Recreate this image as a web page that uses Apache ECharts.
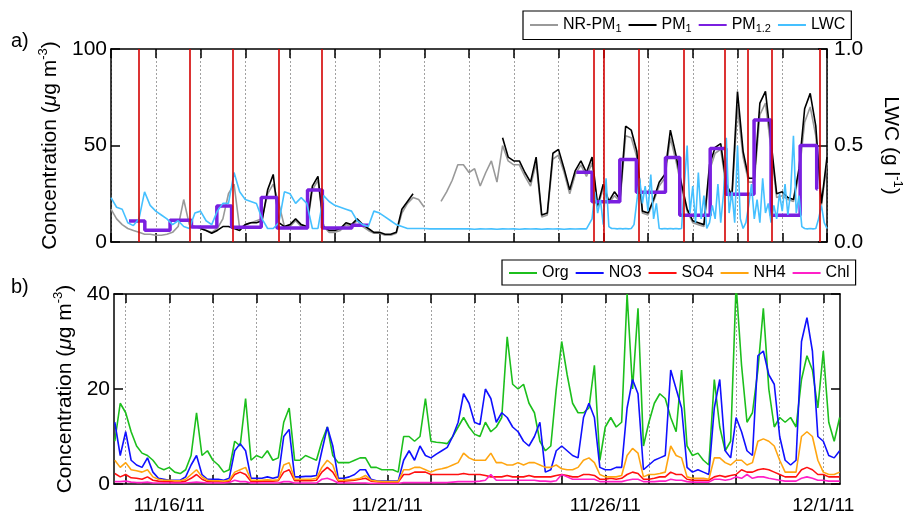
<!DOCTYPE html>
<html><head><meta charset="utf-8">
<script src="https://cdn.jsdelivr.net/npm/echarts@6/dist/echarts.min.js"></script>
<style>html,body{margin:0;padding:0;background:#fff}#c{width:912px;height:515px}</style>
</head><body><div id="c"></div>
<script>
// time unit: days relative to 11/16/11 00:00
// ---- panel a) : 3-hourly samples starting 11/15/11 00:00 ----
const topStart = -1, topStep = 0.125;
const nrpm1 = [17,12,9,7,6,5,4,4,3.5,3.5,4,5,8,22,9,8,
  7,6,5,7,12,25,30,7,9,10,11,12,25,30,20,8,
  8,11,8,7,27,32,8,5,5,6,9,8,11,8,6,4.5,
  4.5,3.5,3.5,4.5,15,20,23,22,18,null,null,21,26,32,40,40,
  36,38,29,36,42,31,50,42,40,40,34,29,41,13,14,43,
  45,36,25,35,40,34,41,18,28,20,24,21,55,54,44,15,
  14,21,29,33,54,42,28,16,10,9,8,37,46,48,28,22,
  70,44,31,31,66,72,48,23,24,22,21,35,62,70,55,19,
  41];
const pm1 = [null,null,null,null,null,null,null,null,null,null,null,null,null,null,null,null,
  7,6,4.5,6,8,8,7,6,9,10,10,11,27,35,10,8,
  9,12,9,8,29,34,8,6,6,7,10,9,12,9,7,5,
  5,4,4,5,17,21,25,null,null,null,null,null,null,null,null,
  null,null,null,null,null,null,null,
  54,44,42,42,36,31,44,14,15,46,
  48,38,27,37,42,36,44,19,30,21,26,22,60,58,47,16,
  15,22,31,35,58,45,30,17,11,10,9,40,49,51,30,24,
  78,47,33,33,72,78,52,25,26,23,22,38,69,77,60,20,
  44];
// LWC: 3-hourly until 11/25 15:00, then 1.5-hourly (cloud events)
const lwcLeftStart = -1, lwcLeftStep = 0.125;
const lwcLeft = [.23,.18,.17,.10,.085,.12,.26,.19,.16,.14,.12,.09,.11,.08,.07,.15,
  .16,.11,.09,.16,.2,.2,.36,.26,.22,.21,.2,.12,.07,.07,.1,.26,
  .25,.2,.23,.2,.07,.07,.24,.21,.19,.18,.17,.16,.11,.09,.08,.16,
  .15,.13,.11,.09,.08,.07,.07,.07,.07,.068,.068,.068,.068,.068,.068,.068,
  .068,.066,.068,.067,.068,.066,.068,.067,.068,.066,.068,.067,.068,.066,.068,.067,
  .068,.066,.068,.067,.068,.068];
const lwcRightStart = 9.75, lwcRightStep = 0.0625;
const lwcRight = [.12,.26,.15,.22,.09,.33,.08,.07,.07,.068,
  .07,.068,.07,.068,.07,.09,.21,.33,.2,.29,
  .16,.35,.12,.2,.07,.068,.07,.068,.07,.068,
  .07,.068,.07,.3,.5,.15,.29,.1,.36,.12,
  .24,.07,.1,.19,.12,.3,.1,.25,.54,.15,
  .26,.1,.5,.12,.07,.1,.19,.3,.12,.22,
  .1,.33,.15,.2,.1,.19,.12,.25,.16,.3,
  .14,.26,.55,.15,.24,.08,.07,.068,.07,.068,
  .07,.12,.19,.1,.07];
// PM1.2 filter samples: start day, end day, concentration
const pm12Start = [-0.597,-0.244,0.32,0.798,1.365,1.695,2.357,2.709,3.392,3.723,4.384, 9.40,9.75,10.37,10.74,11.39,11.71,12.39,12.74,13.37,13.75,14.40,14.77];
const pm12End   = [-0.244,0.32,0.798,1.365,1.695,2.357,2.709,3.392,3.723,4.384,4.76, 9.75,10.37,10.74,11.39,11.71,12.39,12.74,13.37,13.75,14.40,14.77,14.79];
const pm12Val   = [10.9,6.1,11.3,7.8,18.6,7.6,23,7.2,26.9,7.2,8.7, 36.1,20.8,42.8,25.8,43.8,13.9,48.4,24.8,63.2,13.8,50,27.5];
const redLines = [-0.376,0.748,1.724,2.753,3.723,9.79,10.01,10.79,11.80,12.72,13.24,13.77,14.83];

// ---- panel b) : 3-hourly samples starting 11/14/11 18:00 ----
const botStart = -1.25, botStep = 0.125;
const org = [9,17,15,11,8,6.5,6,5,3.5,3,
  3.5,2.5,2.2,3,6,15,6,7,5,4,
  2.5,3,9,8,18,5,6,5.5,7,5,
  5.5,13,16,5,5,6,5.5,5,9,12,
  6,4.5,4.5,4.5,5,5.5,5.5,3.5,3.5,3,
  3,3,2.5,10,10,9,10,18,9,8.8,
  8.7,8.5,10,12,14,12,10.5,10,13,11,
  12,14,31,21,20,21,17,15,9,7,
  8,20,30,23,17,15,15,16,25,5,
  12,14,12,13,40,20,37,8,13,17,
  19,18,14,11,24,8,6,6.5,5,4,
  22,12,7,9,42,25,13,15,24,37,
  20,12,14,13,14,12,22,27,24,16,
  28,13,9,14];
const no3 = [13,6,11,5,4,3.5,5.5,2.5,1.2,1,
  0.8,0.8,0.8,1.5,4,6,2,1,1,1,
  0.8,1.2,7,8.5,7,1.2,1.2,1.2,1.5,1.2,
  1.5,10,11.5,1.5,1.5,1.6,1.6,1.8,7,12,
  8,1.2,1.2,1.5,2,3,3,1,0.7,0.6,
  0.6,0.6,0.6,5,7,5,8,6,5.5,6.3,
  7,7.7,10,13,19,17,13,12.5,20,18,
  13,15,14,12,11,9,8,10,13,2.5,
  3,7,8,7,6,5.5,14,17,14,3.5,
  3,3,3.5,3.5,16,22,19,3,4,5,
  5.5,6,24,20,16,3.5,2.5,3,2.5,2,
  16,22,7,5.5,14,11,7,6,27,28,
  23,21,10,5,4,5,30,35,28,10,
  9,6,5.5,7];
const so4 = [2.2,1.5,2,1.3,1.2,1,1.5,0.8,0.6,0.5,
  0.5,0.4,0.4,0.6,1.2,2,1,0.5,0.5,0.5,
  0.4,0.5,2,2.5,2,0.5,0.5,0.6,0.6,0.6,
  0.7,2.5,3,0.7,0.7,0.7,0.7,0.8,2.5,3.5,
  2.5,0.6,0.6,0.7,0.8,1,1.2,0.6,0.5,0.4,
  0.4,0.4,0.4,2,2,2.5,2.5,2.5,2,2,
  2,2,2,2,2.2,2,2,2,1.8,1.5,
  1.5,1.5,1.8,1.5,1.5,1.5,1.8,1.5,1.5,1.5,
  1.5,1.8,2,1.8,1.5,1.5,2,2,1.8,1,
  1,1.2,1,1.2,2,2.5,2.2,1,1,1.2,
  1.5,1.5,2.5,2,2,1,0.8,0.8,0.8,0.8,
  1.5,1.8,1.5,1.8,2,3,2.5,2.5,3,3.2,
  3,2.5,2,1.5,1.5,1.5,3,3.5,3,2,
  2,1.5,1.5,1.5];
const nh4 = [5,3.5,4.5,3,2.8,2.5,3,1.5,1,0.8,
  0.8,0.7,0.7,1,2,3,1.5,0.8,0.7,0.7,
  0.6,0.8,2.5,3,3.5,0.8,0.8,0.8,0.9,0.8,
  0.9,4,4.5,1,1,1,1,1.2,3.5,5,
  4,0.8,0.8,0.9,1,1.2,1.8,0.8,0.6,0.5,
  0.5,0.5,0.5,3,3,3.5,3.5,3,2.5,3,
  3.2,3.5,4,4.5,6.5,5.5,5,5,5,6.5,
  4.5,4.5,4,4,4.5,4,4.5,4.5,4,3.5,
  3.5,4,3.2,3,3,3.5,5,5.5,4.5,2,
  1.5,1.5,1.5,1.8,6,7.5,6.5,1.5,2,2,
  2.2,2.5,8,6,5.5,1.5,1.2,1.2,1.2,1,
  5.5,5.5,4.5,4,5,5,4,4.5,9,9.5,
  9,8,5,2.5,2.5,2.5,10,11,10,5,
  2.5,2,2,2.5];
const chl = [0.5,0.5,0.6,0.4,0.3,0.3,0.4,0.2,0.2,0.2,
  0.2,0.2,0.2,0.2,0.3,0.4,0.3,0.2,0.2,0.2,
  0.2,0.3,0.8,0.5,0.5,0.2,0.2,0.2,0.2,0.2,
  0.2,0.5,0.5,0.2,0.2,0.2,0.2,0.2,1,1.2,
  0.8,0.2,0.2,0.2,0.2,0.2,0.2,0.1,0.1,0.1,
  0.1,0.1,0.1,0.3,0.3,0.3,0.3,0.3,0.3,0.3,
  0.3,0.3,0.4,0.5,0.5,0.5,0.5,0.6,0.8,2,
  0.8,0.8,0.8,0.8,0.8,0.8,0.8,0.8,0.6,0.6,
  0.5,0.7,2,1.5,1,1,1,1,1,0.5,
  0.5,0.5,0.5,0.5,0.8,1,1,0.5,0.5,0.5,
  0.6,0.6,1,0.8,0.8,0.5,0.4,0.4,0.4,0.4,
  1,1,0.8,1,1.5,1.2,2,1.2,1.5,1.5,
  1.2,1,0.8,0.6,0.6,0.6,1.2,1.5,1.2,0.8,
  0.8,0.6,0.6,0.6];

// axis ticks / labels
const dayTicks = [-1,0,1,2,3,4,5,6,7,8,9,10,11,12,13,14,15];
const labelDays = [0,5,10,15];
const labelText = ['11/16/11','11/21/11','11/26/11','12/1/11'];
const botMin = -1.268, botMax = 15.383;

// ---- build data pairs ----
const pairs = (arr, start, step) => arr.map((v, i) => [start + i * step, v == null ? '-' : v]);
const pm12Data = [];
for (let i = 0; i < pm12Val.length; i++) {
  if (i > 0 && pm12Start[i] - pm12End[i - 1] > 0.5) pm12Data.push([(pm12Start[i] + pm12End[i - 1]) / 2, '-']);
  pm12Data.push([pm12Start[i], pm12Val[i]], [pm12End[i], pm12Val[i]]);
}
const lwcData = pairs(lwcLeft, lwcLeftStart, lwcLeftStep).concat(pairs(lwcRight, lwcRightStart, lwcRightStep));

const F = 'Liberation Sans, Arial, Helvetica, sans-serif';
const AX = {onZero: false, lineStyle: {color: '#000', width: 1.5}};
const TK = {inside: true, length: 9, lineStyle: {color: '#000', width: 1.5}};
const DOT = {show: true, lineStyle: {color: '#8a8a8a', width: 0.8, type: [2, 2]}};
const nameRich = {
  a: {fontSize: 21, fontFamily: F, color: '#000', lineHeight: 27},
  i: {fontSize: 21, fontFamily: F, color: '#000', fontStyle: 'italic', lineHeight: 27},
  s: {fontSize: 13, fontFamily: F, color: '#000', lineHeight: 13, verticalAlign: 'top'}
};
const legendRich = {
  t: {fontSize: 16, fontFamily: F, color: '#000'},
  b: {fontSize: 11, fontFamily: F, color: '#000', padding: [8, 0, 0, 0]}
};
const legendNames = {
  'NR-PM1': '{t|NR-PM}{b|1}', 'PM1': '{t|PM}{b|1}', 'PM1.2': '{t|PM}{b|1.2}', 'LWC': '{t|LWC}',
  'Org': '{t|Org}', 'NO3': '{t|NO3}', 'SO4': '{t|SO4}', 'NH4': '{t|NH4}', 'Chl': '{t|Chl}'
};
const YL = {fontSize: 21, fontFamily: F, color: '#000', margin: 4};

const line = (name, data, color, width, xi, yi, extra) => Object.assign({
  name, type: 'line', data, xAxisIndex: xi, yAxisIndex: yi, showSymbol: false, symbol: 'none',
  lineStyle: {color, width}, itemStyle: {color}, connectNulls: false, animation: false
}, extra || {});

const chart = echarts.init(document.getElementById('c'), null, {renderer: 'canvas'});
chart.setOption({
  animation: false,
  backgroundColor: '#fff',
  grid: [
    {left: 111, top: 49, width: 726, height: 193},
    {left: 114, top: 294, width: 726, height: 193}
  ],
  xAxis: [
    {gridIndex: 0, type: 'value', min: -1, max: 15, interval: 1, position: 'bottom',
      axisLine: AX, axisTick: TK, axisLabel: {show: false}, splitLine: DOT},
    {gridIndex: 0, type: 'value', min: -1, max: 15, interval: 1, position: 'top',
      axisLine: AX, axisTick: TK, axisLabel: {show: false}, splitLine: {show: false}},
    {gridIndex: 1, type: 'value', min: botMin, max: botMax, position: 'bottom',
      axisLine: AX, axisTick: Object.assign({customValues: dayTicks}, TK),
      axisLabel: {customValues: labelDays, fontSize: 19, fontFamily: F, color: '#000', margin: 12,
        formatter: v => labelText[labelDays.indexOf(Math.round(v))] || ''},
      splitLine: DOT},
    {gridIndex: 1, type: 'value', min: botMin, max: botMax, position: 'top',
      axisLine: AX, axisTick: Object.assign({customValues: dayTicks}, TK), axisLabel: {show: false}, splitLine: {show: false}}
  ],
  yAxis: [
    {gridIndex: 0, type: 'value', min: 0, max: 100, interval: 50, position: 'left',
      axisLine: AX, axisTick: TK, axisLabel: YL, splitLine: {show: false},
      name: '{a|Concentration (}{i|μ}{a|g m}{s|-3}{a|)}', nameLocation: 'middle', nameGap: 33, nameRotate: 90,
      nameTextStyle: {rich: nameRich}},
    {gridIndex: 0, type: 'value', min: 0, max: 1, interval: 0.5, position: 'right',
      axisLine: AX, axisTick: TK,
      axisLabel: Object.assign({}, YL, {margin: 7, formatter: v => v.toFixed(1)}),
      splitLine: {show: false},
      name: '{a|LWC (g l}{s|-1}{a|)}', nameLocation: 'middle', nameGap: 50, nameRotate: -90,
      nameTextStyle: {rich: nameRich}},
    {gridIndex: 1, type: 'value', min: 0, max: 40, interval: 20, position: 'left',
      axisLine: AX, axisTick: TK, axisLabel: YL, splitLine: {show: false},
      name: '{a|Concentration (}{i|μ}{a|g m}{s|-3}{a|)}', nameLocation: 'middle', nameGap: 33, nameRotate: 90,
      nameTextStyle: {rich: nameRich}},
    {gridIndex: 1, type: 'value', min: 0, max: 40, interval: 20, position: 'right',
      axisLine: AX, axisTick: TK, axisLabel: {show: false}, splitLine: {show: false}}
  ],
  legend: [
    {data: ['NR-PM1', 'PM1', 'PM1.2', 'LWC'], left: 523, top: 11, itemWidth: 28, itemHeight: 12, itemGap: 6,
      padding: [6, 6, 5, 6], borderColor: '#000', borderWidth: 1.2, backgroundColor: '#fff',
      itemStyle: {opacity: 0},
      formatter: n => legendNames[n], textStyle: {rich: legendRich}},
    {data: ['Org', 'NO3', 'SO4', 'NH4', 'Chl'], left: 502, top: 260, itemWidth: 28, itemHeight: 12, itemGap: 6,
      padding: [5, 6, 4, 6], borderColor: '#000', borderWidth: 1.2, backgroundColor: '#fff',
      itemStyle: {opacity: 0},
      formatter: n => legendNames[n], textStyle: {rich: legendRich}}
  ],
  graphic: [
    {type: 'text', left: 11, top: 31, style: {text: 'a)', fontSize: 20, fontFamily: F, fill: '#000'}},
    {type: 'text', left: 11, top: 277, style: {text: 'b)', fontSize: 20, fontFamily: F, fill: '#000'}}
  ],
  series: [
    line('NR-PM1', pairs(nrpm1, topStart, topStep), '#999999', 1.6, 0, 0),
    line('PM1', pairs(pm1, topStart, topStep), '#000000', 1.6, 0, 0, {
      markLine: {silent: true, symbol: ['none', 'none'], animation: false, label: {show: false},
        lineStyle: {color: '#d40000', width: 1.6, type: 'solid'},
        data: redLines.map(x => ({xAxis: x}))}
    }),
    line('PM1.2', pm12Data, '#7a1fe0', 3.5, 0, 0),
    line('LWC', lwcData, '#45c0ff', 1.6, 0, 1),
    line('Org', pairs(org, botStart, botStep), '#1cbf1c', 1.6, 2, 2),
    line('NO3', pairs(no3, botStart, botStep), '#1010ff', 1.6, 2, 2),
    line('SO4', pairs(so4, botStart, botStep), '#ff1010', 1.6, 2, 2),
    line('NH4', pairs(nh4, botStart, botStep), '#ffa510', 1.6, 2, 2),
    line('Chl', pairs(chl, botStart, botStep), '#ff20c8', 1.6, 2, 2)
  ]
});
</script></body></html>
